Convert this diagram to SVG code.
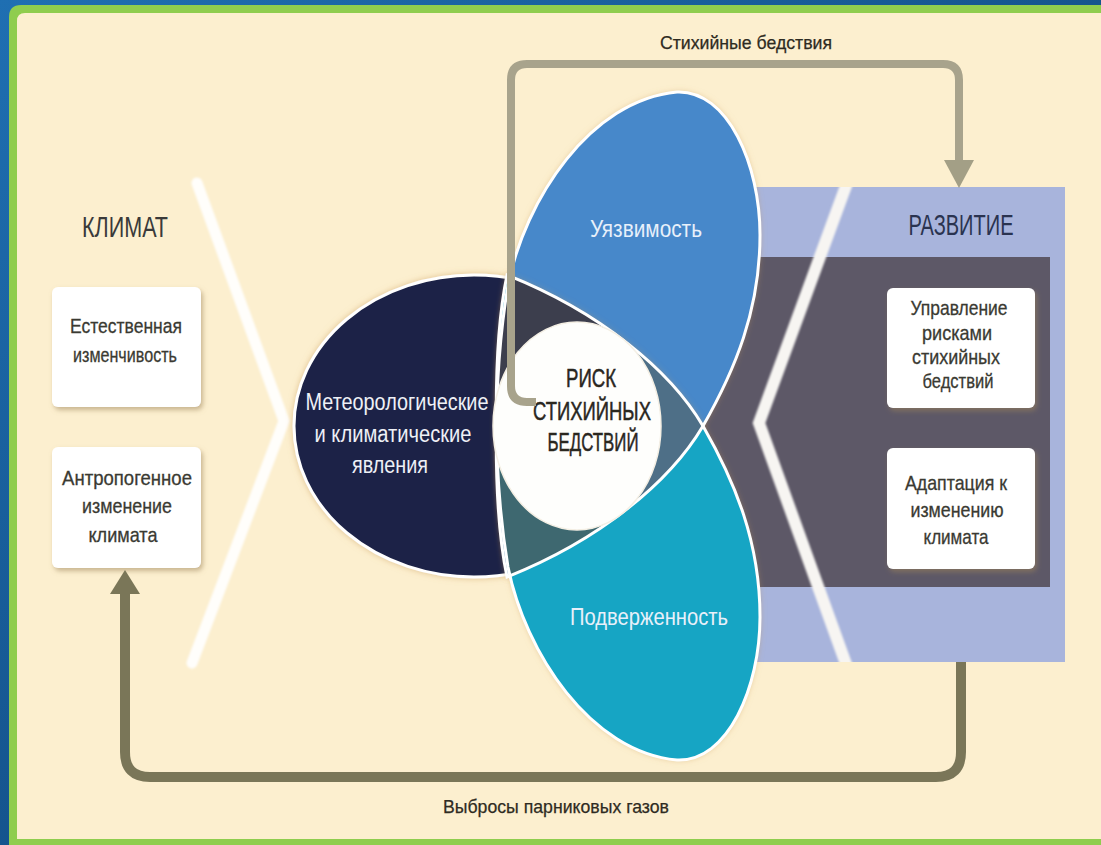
<svg xmlns="http://www.w3.org/2000/svg" width="1101" height="845" viewBox="0 0 1101 845">
<defs>
  <style>
    .t { font-family: "Liberation Sans", Arial, sans-serif; text-anchor: middle; }
    .box { fill: #ffffff; filter: url(#boxShadow); }
    .boxtxt { font-size: 21px; fill: #3a3a32; stroke: #3a3a32; stroke-width: 0.3; }
    .title { font-size: 30px; }
    .lbl { font-size: 19px; fill: #2e2b22; stroke: #2e2b22; stroke-width: 0.25; }
    .wtxt { font-size: 23px; fill: #eef0f6; }
    .ptxt { font-size: 24px; fill: #e8f0fa; }
    .rtxt { font-size: 26px; fill: #2a271f; stroke: #2a271f; stroke-width: 0.5; }
    .outline { fill: none; stroke: #ffffff; stroke-width: 3; }
  </style>
  <linearGradient id="blueG" x1="0" y1="0" x2="1" y2="1">
    <stop offset="0" stop-color="#1f6fb2"/>
    <stop offset="1" stop-color="#0b3a6a"/>
  </linearGradient>
  <filter id="boxShadow" x="-20%" y="-20%" width="140%" height="140%">
    <feDropShadow dx="2" dy="3" stdDeviation="2.5" flood-color="#9c8458" flood-opacity="0.55"/>
  </filter>
  <filter id="glow" x="-20%" y="-20%" width="140%" height="140%">
    <feDropShadow dx="0" dy="0" stdDeviation="3" flood-color="#c99a55" flood-opacity="0.55"/>
  </filter>
  <filter id="soft" x="-10%" y="-10%" width="120%" height="120%">
    <feGaussianBlur stdDeviation="0.8"/>
  </filter>
  <path id="up" d="M677,92 C728,90 760,165 760,235 C760,310 735,370 703,426 C670,482 600,540 507,577 C493,510 492,380 508,285 C525,200 590,100 677,92 Z"/>
  <path id="lo" d="M677,760 C728,762 760,687 760,617 C760,542 735,482 703,426 C670,370 600,312 507,275 C493,342 492,472 508,567 C525,652 590,752 677,760 Z"/>
  <clipPath id="cUp"><path d="M677,92 C728,90 760,165 760,235 C760,310 735,370 703,426 C670,482 600,540 507,577 C493,510 492,380 508,285 C525,200 590,100 677,92 Z"/></clipPath>
  <clipPath id="cLo"><path d="M677,760 C728,762 760,687 760,617 C760,542 735,482 703,426 C670,370 600,312 507,275 C493,342 492,472 508,567 C525,652 590,752 677,760 Z"/></clipPath>
  <clipPath id="cDark"><ellipse cx="474" cy="426" rx="180" ry="151"/></clipPath>
  <clipPath id="cPanel"><rect x="700" y="187" width="365" height="475"/></clipPath>
  <marker id="arrTop" markerUnits="userSpaceOnUse" markerWidth="28" markerHeight="30" viewBox="0 0 28 30" refX="0" refY="15" orient="auto">
    <path d="M0,0 L28,15 L0,30 Z" fill="#a39f86"/>
  </marker>
  <marker id="arrBot" markerUnits="userSpaceOnUse" markerWidth="24" markerHeight="30" viewBox="0 0 24 30" refX="0" refY="15" orient="auto">
    <path d="M0,0 L24,15 L0,30 Z" fill="#7a7658"/>
  </marker>
</defs>

<!-- frame -->
<rect width="1101" height="845" fill="url(#blueG)"/>
<path d="M9,845 V17 Q9,5 21,5 H1101 V845 Z" fill="#8fcd4e"/>
<path d="M17,839 V21 Q17,13 25,13 H1101 V839 Z" fill="#fcefcf"/>

<!-- KLIMAT side -->
<g id="climate">
  <text class="t title" x="125" y="237" fill="#3a3a3a" textLength="86" lengthAdjust="spacingAndGlyphs">КЛИМАТ</text>
</g>
<g id="box-natural">
  <rect class="box" x="52" y="287" width="149" height="120" rx="6"/>
  <text class="t boxtxt" x="126" y="333" textLength="112" lengthAdjust="spacingAndGlyphs">Естественная</text>
  <text class="t boxtxt" x="125" y="362" textLength="104" lengthAdjust="spacingAndGlyphs">изменчивость</text>
</g>
<g id="box-anthro">
  <rect class="box" x="52" y="447" width="149" height="121" rx="6"/>
  <text class="t boxtxt" x="127" y="485" textLength="130" lengthAdjust="spacingAndGlyphs">Антропогенное</text>
  <text class="t boxtxt" x="127" y="513" textLength="90" lengthAdjust="spacingAndGlyphs">изменение</text>
  <text class="t boxtxt" x="123" y="542" textLength="69" lengthAdjust="spacingAndGlyphs">климата</text>
</g>
<g id="chevron-left">
  <polyline points="197,183 284,421 192,663" fill="none" stroke="#ffffff" stroke-opacity="0.92" stroke-width="11" stroke-linecap="round" stroke-linejoin="miter" filter="url(#soft)"/>
</g>

<!-- DEVELOPMENT panel -->
<g id="development">
  <rect x="700" y="187" width="365" height="475" fill="#a8b4dc"/>
  <rect x="700" y="257" width="350" height="330" fill="#5d5867"/>
  <polyline clip-path="url(#cPanel)" points="850,175 759,423 850,675" fill="none" stroke="#f7f5f2" stroke-width="12" stroke-linejoin="miter" filter="url(#soft)"/>
  <text class="t title" x="961" y="235" fill="#2a3350" textLength="105" lengthAdjust="spacingAndGlyphs">РАЗВИТИЕ</text>
</g>
<g id="box-drm">
  <rect class="box" x="887" y="288" width="148" height="120" rx="6"/>
  <text class="t boxtxt" x="959" y="315" textLength="97" lengthAdjust="spacingAndGlyphs">Управление</text>
  <text class="t boxtxt" x="957" y="340" textLength="70" lengthAdjust="spacingAndGlyphs">рисками</text>
  <text class="t boxtxt" x="956" y="364" textLength="88" lengthAdjust="spacingAndGlyphs">стихийных</text>
  <text class="t boxtxt" x="958" y="388" textLength="71" lengthAdjust="spacingAndGlyphs">бедствий</text>
</g>
<g id="box-adapt">
  <rect class="box" x="887" y="448" width="148" height="121" rx="6"/>
  <text class="t boxtxt" x="956" y="490" textLength="102" lengthAdjust="spacingAndGlyphs">Адаптация к</text>
  <text class="t boxtxt" x="957" y="517" textLength="93" lengthAdjust="spacingAndGlyphs">изменению</text>
  <text class="t boxtxt" x="956" y="544" textLength="65" lengthAdjust="spacingAndGlyphs">климата</text>
</g>

<!-- Venn -->
<g id="hazard">
  <ellipse cx="474" cy="426" rx="180" ry="151" fill="#1d2347" stroke="#ffffff" stroke-width="3" filter="url(#glow)"/>
</g>
<g id="vulnerability">
  <use href="#up" fill="#4688ca" filter="url(#glow)"/>
</g>
<g id="exposure">
  <use href="#lo" fill="#16a5c4" filter="url(#glow)"/>
</g>
<g id="overlaps">
  <g clip-path="url(#cLo)"><use href="#up" fill="#4e6f87"/></g>
  <g clip-path="url(#cDark)">
    <g clip-path="url(#cLo)">
      <g clip-path="url(#cUp)">
        <rect x="480" y="250" width="240" height="176" fill="#3c3e4d"/>
        <rect x="480" y="426" width="240" height="176" fill="#3e6870"/>
      </g>
    </g>
  </g>
  <use href="#up" class="outline"/>
  <use href="#lo" class="outline"/>
</g>
<g id="hazard-label">
  <text class="t wtxt" x="397" y="410" textLength="183" lengthAdjust="spacingAndGlyphs">Метеорологические</text>
  <text class="t wtxt" x="393" y="442" textLength="157" lengthAdjust="spacingAndGlyphs">и климатические</text>
  <text class="t wtxt" x="390" y="473" textLength="76" lengthAdjust="spacingAndGlyphs">явления</text>
</g>
<g id="vulnerability-label">
  <text class="t ptxt" x="646" y="237" textLength="112" lengthAdjust="spacingAndGlyphs">Уязвимость</text>
</g>
<g id="exposure-label">
  <text class="t ptxt" x="649" y="625" textLength="158" lengthAdjust="spacingAndGlyphs">Подверженность</text>
</g>
<g id="risk">
  <ellipse cx="577" cy="426" rx="84" ry="104" fill="#fefefc" stroke="#f4efe4" stroke-width="1.5"/>
  <text class="t rtxt" x="591" y="387" textLength="50" lengthAdjust="spacingAndGlyphs">РИСК</text>
  <text class="t rtxt" x="592" y="420" textLength="118" lengthAdjust="spacingAndGlyphs">СТИХИЙНЫХ</text>
  <text class="t rtxt" x="593" y="451" textLength="91" lengthAdjust="spacingAndGlyphs">БЕДСТВИЙ</text>
</g>

<!-- connectors -->
<g id="connectors" fill="none">
  <path d="M536,402 H527 Q511,402 511,386 V80 Q511,64 527,64 H943 Q959,64 959,80 V160" stroke="#a8a38c" stroke-width="8" marker-end="url(#arrTop)"/>
  <path d="M961,662 V752 Q961,777 936,777 H150 Q125,777 125,752 V594" stroke="#7a7658" stroke-width="10" marker-end="url(#arrBot)"/>
  <text class="t lbl" x="746" y="49" textLength="172" lengthAdjust="spacingAndGlyphs">Стихийные бедствия</text>
  <text class="t lbl" x="556" y="813" textLength="226" lengthAdjust="spacingAndGlyphs">Выбросы парниковых газов</text>
</g>
</svg>
